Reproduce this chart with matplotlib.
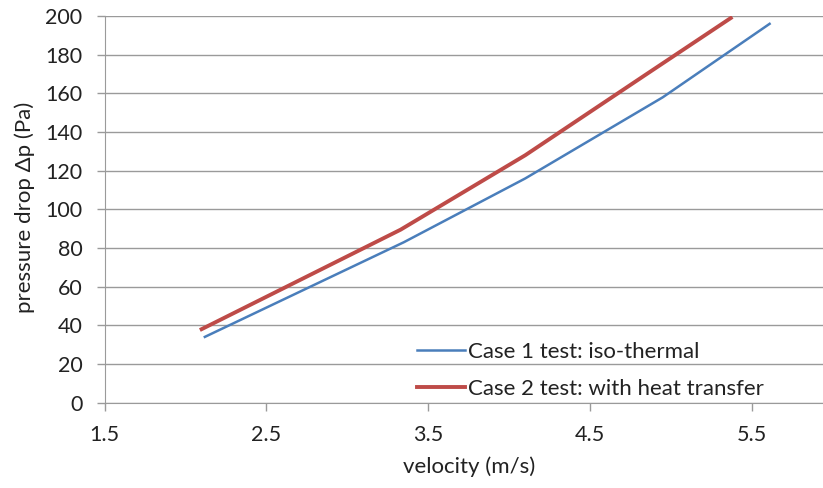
import matplotlib
matplotlib.use("Agg")
import matplotlib.pyplot as plt

plt.rcParams['font.family'] = ['Lato', 'DejaVu Sans']

# Measured pressure drop vs. inlet velocity
velocity_case1 = [2.12, 3.35, 4.10, 4.95, 5.61]
dp_case1 = [34, 83, 116, 158, 196]
velocity_case2 = [2.10, 3.33, 4.10, 4.85, 5.37]
dp_case2 = [38, 89.5, 128, 170, 199]

labels = ["Case 1 test: iso-thermal", "Case 2 test: with heat transfer"]
x_ticks = [1.5, 2.5, 3.5, 4.5, 5.5]
y_ticks = [0, 20, 40, 60, 80, 100, 120, 140, 160, 180, 200]

W, H = 823, 488
fig = plt.figure(figsize=(W / 100, H / 100), dpi=100)
ax = fig.add_axes([0.127, 0.175, 0.873, 0.792])

grid_c = "#9a9a9a"
text_c = "#222222"
ax.plot(velocity_case1, dp_case1, color="#4A7EBB", lw=1.8, label=labels[0], zorder=3)
ax.plot(velocity_case2, dp_case2, color="#BE4B48", lw=2.8, label=labels[1], zorder=3)

ax.set_xlim(1.5, 5.94)
ax.set_ylim(0, 200)
ax.set_xticks(x_ticks)
ax.set_xticklabels([f"{v:.1f}" for v in x_ticks])
ax.set_yticks(y_ticks)
ax.grid(axis='y', color=grid_c, lw=1.0)
ax.set_axisbelow(True)

for s in ['top', 'right']:
    ax.spines[s].set_visible(False)
ax.spines['left'].set_color(grid_c)
ax.spines['bottom'].set_color(grid_c)
ax.tick_params(axis='both', colors=grid_c, labelcolor=text_c, labelsize=15.5,
               length=6, width=1.0)
ax.tick_params(axis='y', pad=10)
ax.tick_params(axis='x', pad=10)

fig.text(469 / W, 1 - 467 / H, "velocity (m/s)", fontsize=16, color=text_c,
         ha='center', va='center')
fig.text(25 / W, 1 - 207 / H, "pressure drop Δp (Pa)", fontsize=16, color=text_c,
         ha='center', va='center', rotation=90)

ax.legend(loc='lower left', bbox_to_anchor=(0.422, -0.013), frameon=False,
          fontsize=16, handlelength=2.2, handletextpad=0.1, labelspacing=0.75,
          borderaxespad=0, labelcolor=text_c)

fig.savefig("out.png", dpi=100)
